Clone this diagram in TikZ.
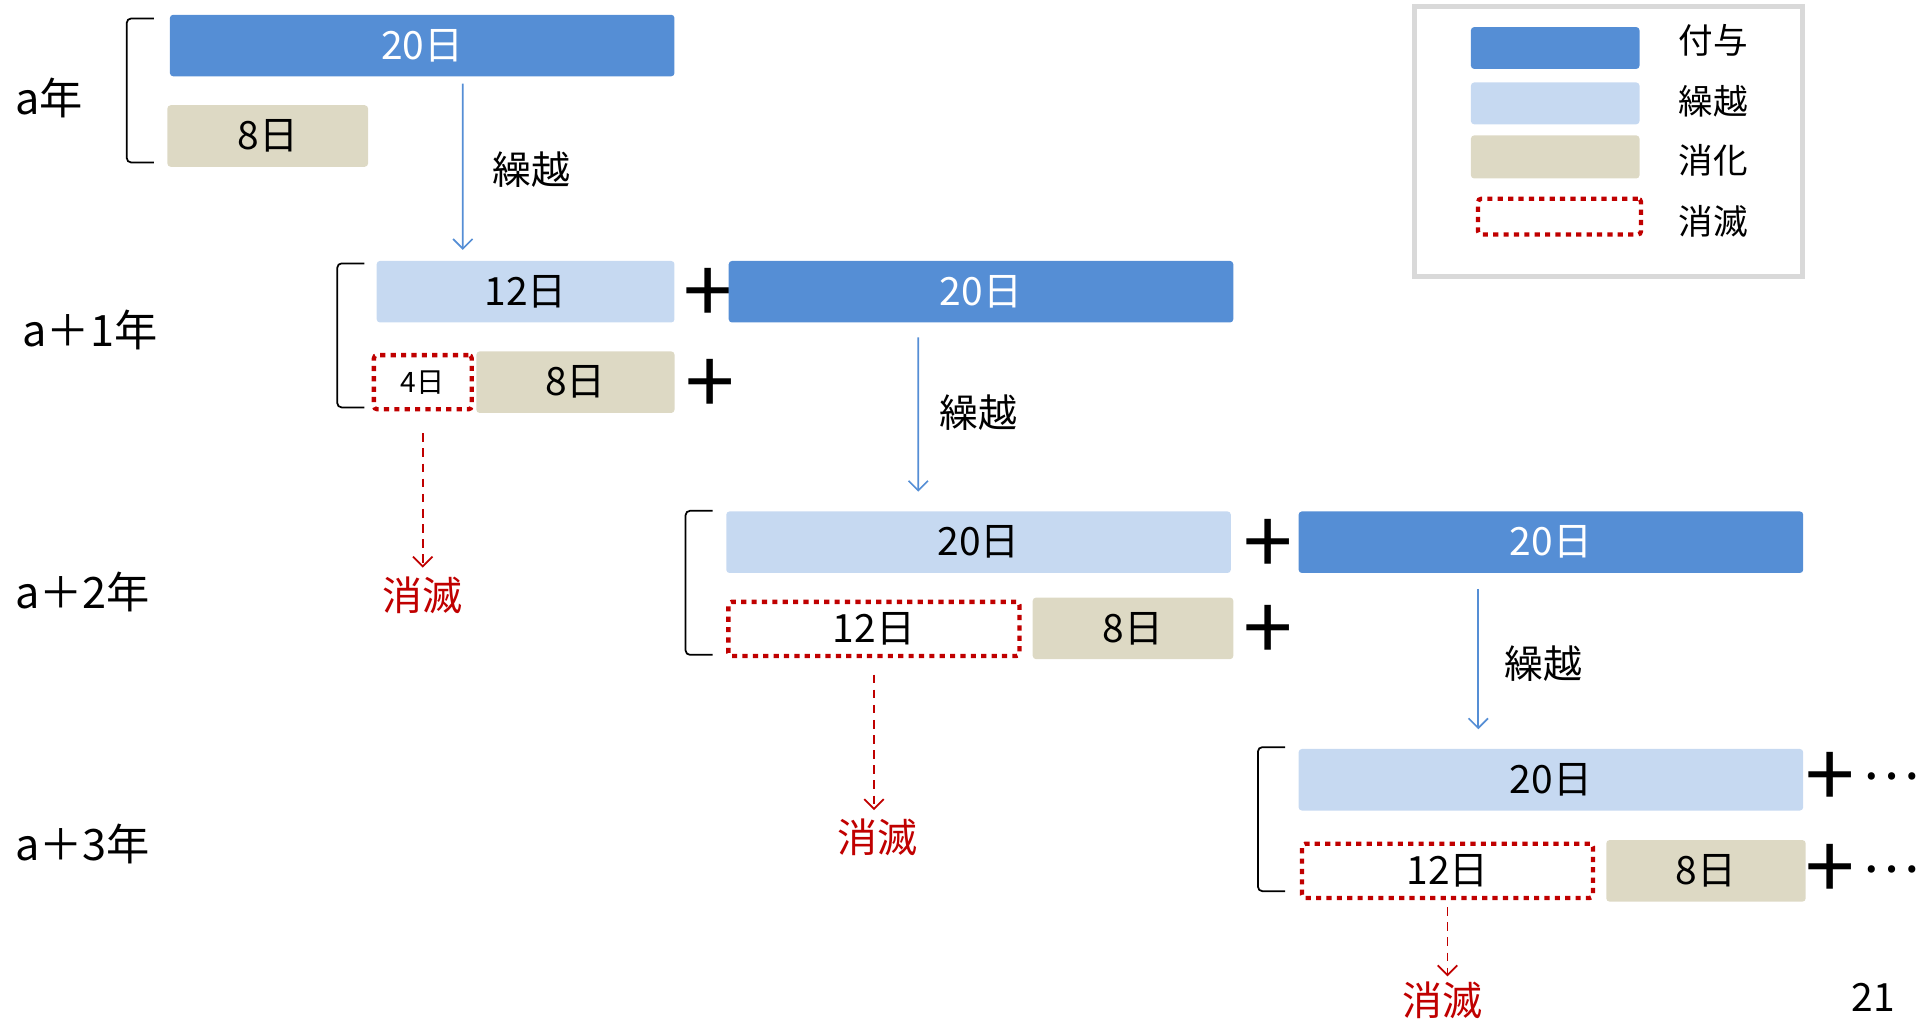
\documentclass[tikz,border=0pt]{standalone}
\usepackage{fontspec}
\setmainfont{Noto Sans CJK JP}
\usetikzlibrary{arrows.meta, positioning, calc}
\definecolor{grantblue}{RGB}{85, 142, 213}
\definecolor{carryblue}{RGB}{198, 217, 241}
\definecolor{usedtan}{RGB}{221, 217, 196}
\definecolor{lapsered}{RGB}{192, 0, 0}
\definecolor{legendgray}{RGB}{217, 217, 217}
\tikzset{
    bar/.style={
        rectangle, rounded corners=1.5pt, minimum height=1cm, inner sep=0pt,
        outer sep=0pt, font=\fontsize{18}{18}\selectfont
    },
    grantbox/.style={bar, fill=grantblue, text=white},
    carrybox/.style={bar, fill=carryblue, text=black},
    usedbox/.style={bar, fill=usedtan, text=black},
    lapsebox/.style={bar, draw=lapsered, fill=white, line width=2pt, dash pattern=on 2.4pt off 2.4pt, minimum height=0.88cm},
    carryarrow/.style={-{Straight Barb[length=4.5pt, width=9pt]}, draw=grantblue, line width=0.8pt},
    lapsearrow/.style={-{Straight Barb[length=4.5pt, width=9pt]}, draw=lapsered, line width=0.8pt, dash pattern=on 4pt off 3pt},
    yearlabel/.style={anchor=west, inner sep=0pt, font=\fontsize{20}{20}\selectfont},
    carrylabel/.style={font=\fontsize{18}{18}\selectfont},
    lapselabel/.style={inner sep=0pt, text=lapsered, font=\fontsize{18.5}{18.5}\selectfont},
    plussign/.style={inner sep=0pt, yshift=-0.07cm, font=\fontsize{41}{41}\selectfont},
    moredots/.style={inner sep=0pt, font=\fontsize{25}{25}\selectfont},
    bracket/.style={draw=black, line width=0.8pt, rounded corners=2pt},
    legendtext/.style={font=\fontsize{16}{16}\selectfont},
}
\begin{document}
\begin{tikzpicture}[x=0.02cm, y=-0.02cm]
    \useasboundingbox (0,0) rectangle (1568,828);

    % year labels and brackets
    \node[yearlabel] (ya) at (12, 80) {a年};
    \node[yearlabel] (yb) at (18, 268) {a＋1年};
    \node[yearlabel] (yc) at (12, 481) {a＋2年};
    \node[yearlabel] (yd) at (12, 686) {a＋3年};
    \foreach \bx/\by in {103/15, 274/214, 557/415, 1022/607}
        \draw[bracket] (\bx+22, \by) -- (\bx, \by) -- (\bx, \by+117) -- (\bx+22, \by+117);

    % a
    \node[grantbox, minimum width=8.2cm] (g0) at (343, 37) {20日};
    \node[usedbox, minimum width=3.26cm] (u0) at (217.5, 110.5) {8日};

    % a+1
    \node[carrybox, minimum width=4.84cm] (c1) at (427, 237) {12日};
    \node[plussign] (p1) at (575, 237) {+};
    \node[grantbox, minimum width=8.2cm] (g1) at (797, 237) {20日};
    \node[lapsebox, minimum width=1.59cm, font=\fontsize{13}{13}\selectfont] (l1) at (343.5, 310.5) {4日};
    \node[usedbox, minimum width=3.22cm] (u1) at (467.5, 310.5) {8日};
    \node[plussign] (q1) at (577, 311) {+};
    \node[lapselabel] (e1) at (343, 484) {消滅};

    % a+2
    \node[carrybox, minimum width=8.2cm] (c2) at (795, 440.5) {20日};
    \node[plussign] (p2) at (1030, 441) {+};
    \node[grantbox, minimum width=8.2cm] (g2) at (1260, 440.5) {20日};
    \node[lapsebox, minimum width=4.73cm] (l2) at (710, 511) {12日};
    \node[usedbox, minimum width=3.26cm] (u2) at (920.5, 510.5) {8日};
    \node[plussign] (q2) at (1030, 511) {+};
    \node[lapselabel] (e2) at (713, 680) {消滅};

    % a+3
    \node[carrybox, minimum width=8.2cm] (c3) at (1260, 633.5) {20日};
    \node[plussign] (p3) at (1487, 630) {+};
    \node[moredots] (d3) at (1536, 631) {…};
    \node[lapsebox, minimum width=4.73cm] (l3) at (1176, 707.5) {12日};
    \node[usedbox, minimum width=3.24cm] (u3) at (1386, 707.5) {8日};
    \node[plussign] (q3) at (1487, 705) {+};
    \node[moredots] (f3) at (1536, 706) {…};
    \node[lapselabel] (e3) at (1172, 813) {消滅};

    % carry-over arrows
    \draw[carryarrow, shorten <=0.12cm, shorten >=0.18cm] ([xshift=0.66cm]g0.south) -- ([xshift=-1.02cm]c1.north);
    \node[carrylabel] (k1) at (432, 138) {繰越};
    \draw[carryarrow, shorten <=0.24cm, shorten >=0.32cm] ([xshift=-1.02cm]g1.south) -- ([xshift=-0.98cm]c2.north);
    \node[carrylabel] (k2) at (795, 335) {繰越};
    \draw[carryarrow, shorten <=0.26cm, shorten >=0.32cm] ([xshift=-1.18cm]g2.south) -- ([xshift=-1.18cm]c3.north);
    \node[carrylabel] (k3) at (1254, 539) {繰越};

    % lapse arrows
    \draw[lapsearrow, shorten <=0.39cm, shorten >=0.15cm] (l1.south) -- (l1.south |- e1.north);
    \draw[lapsearrow, shorten <=0.3cm, shorten >=0.13cm] (l2.south) -- (l2.south |- e2.north);
    \draw[lapsearrow, shorten <=0.15cm, shorten >=0.09cm] (l3.south) -- (l3.south |- e3.north);

    % legend
    \node[draw=legendgray, line width=2.3pt, minimum width=6.3cm, minimum height=4.38cm] (legend) at (1307, 115) {};
    \node[grantbox, minimum width=2.74cm, minimum height=0.68cm] (kgrant) at (1263.5, 39) {};
    \node[carrybox, minimum width=2.74cm, minimum height=0.68cm] (kcarry) at (1263.5, 84) {};
    \node[usedbox, minimum width=2.74cm, minimum height=0.7cm] (kused) at (1263.5, 127.5) {};
    \node[lapsebox, minimum width=2.65cm, minimum height=0.58cm] (klapse) at (1267, 176) {};
    \node[legendtext] (tgrant) at (1392, 33) {付与};
    \node[legendtext] (tcarry) at (1392, 82) {繰越};
    \node[legendtext] (tused) at (1392, 130) {消化};
    \node[legendtext] (tlapse) at (1392, 180) {消滅};

    \node[carrylabel] (page) at (1522, 810) {21};
\end{tikzpicture}
\end{document}
